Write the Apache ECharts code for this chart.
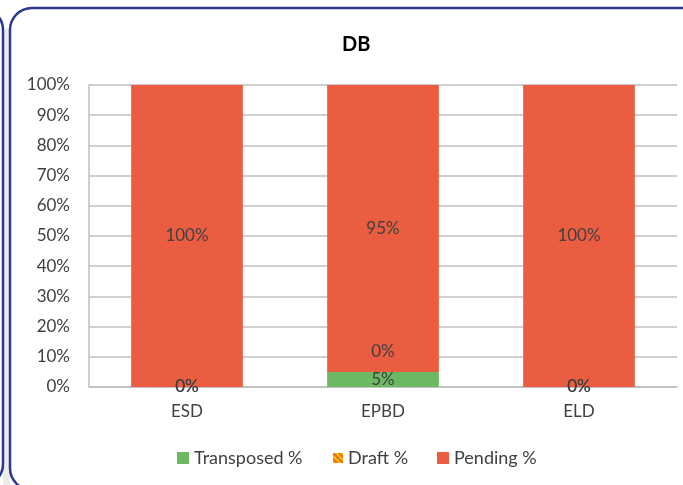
<!DOCTYPE html>
<html><head><meta charset="utf-8">
<script src="https://cdn.jsdelivr.net/npm/echarts@6/dist/echarts.min.js"></script>
<style>html,body{margin:0;padding:0;background:#fff}#c{width:683px;height:485px}</style>
</head><body><div id="c"></div>
<script>
var categories = ['ESD', 'EPBD', 'ELD'];
var transposed = [0, 5, 0];
var draft = [0, 0, 0];
var pending = [100, 95, 100];
var yTicks = [0, 10, 20, 30, 40, 50, 60, 70, 80, 90, 100];

var pc = document.createElement('canvas');
pc.width = 6; pc.height = 6;
var g = pc.getContext('2d');
g.fillStyle = '#FFC000'; g.fillRect(0, 0, 6, 6);
g.strokeStyle = '#F06A1E'; g.lineWidth = 2.2;
for (var k = -6; k <= 12; k += 6) { g.beginPath(); g.moveTo(k, 0); g.lineTo(k + 6, 6); g.stroke(); }
var draftColor = { image: pc, repeat: 'repeat' };

var FONT = 'Lato';
var txt = '#404040';
function lab(pos) {
  return { show: true, position: pos, formatter: '{c}%', color: txt, fontFamily: FONT, fontSize: 17 };
}
function leg(name, left, size) {
  return {
    left: left, top: 449, itemWidth: size, itemHeight: size, itemGap: 0, icon: 'rect',
    height: 22, padding: 0,
    textStyle: { fontFamily: FONT, fontSize: 18, color: txt, padding: [0, 0, 0, 0] },
    data: [name]
  };
}
var chart = echarts.init(document.getElementById('c'));
chart.setOption({
  animation: false,
  title: { text: 'DB', left: 337, top: 30, textStyle: { fontFamily: FONT, fontWeight: 'bold', fontSize: 20, color: '#000' } },
  graphic: [
    { type: 'rect', shape: { x: 3, y: 28, width: 7, height: 460 }, style: { fill: '#ECECEC' }, z: -1 },
    { type: 'rect', shape: { x: -700, y: 8, width: 703, height: 478, r: 22 }, style: { fill: 'none', stroke: '#2B3A8F', lineWidth: 2.5 } },
    { type: 'rect', shape: { x: 10, y: 8, width: 700, height: 482, r: 22 }, style: { fill: 'none', stroke: '#2B3A8F', lineWidth: 2.5 } }
  ],
  legend: [
    leg('Transposed %', 177, 12),
    leg('Draft %', 333, 10),
    leg('Pending %', 437, 12)
  ],
  grid: { left: 89, right: 6, top: 85, bottom: 98 },
  xAxis: {
    type: 'category', data: categories,
    axisTick: { show: false },
    axisLine: { lineStyle: { color: '#BFBFBF', width: 1.5 } },
    axisLabel: { color: txt, fontFamily: FONT, fontSize: 17, margin: 16 }
  },
  yAxis: {
    type: 'value', min: yTicks[0], max: yTicks[yTicks.length - 1], interval: 10,
    axisLine: { show: true, lineStyle: { color: '#BFBFBF', width: 1.5 } },
    axisTick: { show: false },
    splitLine: { lineStyle: { color: '#BFBFBF', width: 1.5 } },
    axisLabel: { color: txt, fontFamily: FONT, fontSize: 17, margin: 19, formatter: '{value}%' }
  },
  series: [
    { name: 'Transposed %', type: 'bar', stack: 's', barWidth: '57%', data: transposed,
      itemStyle: { color: '#6DB862' }, label: lab('inside') },
    { name: 'Draft %', type: 'bar', stack: 's', data: draft.map(function (v, i) {
        return i === 1 ? { value: v, label: { offset: [0, -20] } } : v; }),
      itemStyle: { color: draftColor }, label: lab('inside') },
    { name: 'Pending %', type: 'bar', stack: 's', data: pending,
      itemStyle: { color: '#EA5D40' }, label: lab('inside') }
  ]
});
</script></body></html>
